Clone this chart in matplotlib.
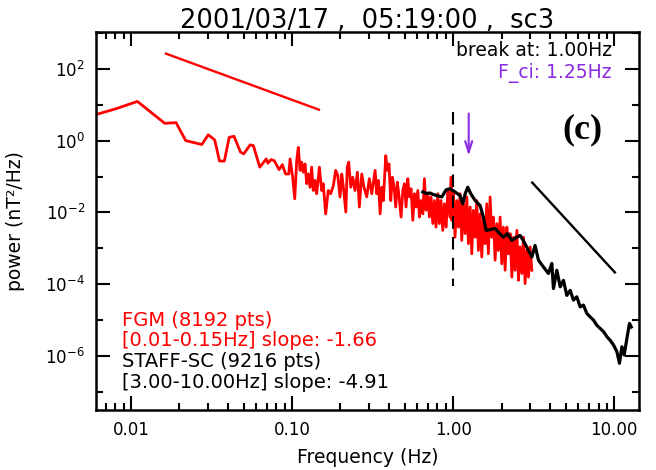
import numpy as np
import matplotlib
matplotlib.use("Agg")
import matplotlib.pyplot as plt
import matplotlib.ticker as ticker

# FGM spectrum (red), values as log10(f), log10(P)
fgm_logf = [-2.22, -2.09, -1.96, -1.79, -1.72, -1.66, -1.56, -1.52, -1.48, -1.45,
            -1.42, -1.39, -1.36, -1.32, -1.30, -1.26, -1.24, -1.20, -1.16, -1.15,
            -1.13, -1.11, -1.08, -1.06, -1.04, -1.02,
            -1.012, -0.996, -0.983, -0.971, -0.961, -0.950, -0.940, -0.930, -0.919, -0.909,
            -0.899, -0.888, -0.878, -0.868, -0.857, -0.847, -0.830, -0.816, -0.806, -0.791,
            -0.775, -0.760, -0.743, -0.729, -0.716, -0.702, -0.691, -0.681, -0.666, -0.657,
            -0.648, -0.635, -0.623, -0.609, -0.594, -0.582, -0.567, -0.553, -0.536, -0.520,
            -0.505,
            -0.484, -0.474, -0.464, -0.453, -0.443, -0.433, -0.418, -0.408, -0.398, -0.387,
            -0.377, -0.366, -0.356, -0.346, -0.335, -0.323, -0.312, -0.302, -0.292, -0.281,
            -0.271, -0.261, -0.250, -0.240, -0.230, -0.219, -0.209, -0.199, -0.188, -0.178,
            -0.168, -0.157, -0.147, -0.137, -0.126, -0.116, -0.106, -0.095, -0.085, -0.075,
            -0.064, -0.054, -0.043, -0.033, -0.020,
            -0.012, -0.008, 0.002, 0.012, 0.023, 0.033, 0.043, 0.054, 0.064, 0.075,
            0.085, 0.095, 0.106, 0.116, 0.126, 0.137, 0.147, 0.157, 0.168, 0.178,
            0.188, 0.199, 0.209, 0.219, 0.230, 0.240, 0.250, 0.261, 0.271, 0.281,
            0.292, 0.302, 0.312, 0.323, 0.334, 0.343, 0.354, 0.365, 0.375, 0.385,
            0.396, 0.406, 0.416, 0.427, 0.437, 0.447, 0.458, 0.468, 0.478, 0.489]
fgm_logp = [0.72, 0.89, 1.09, 0.48, 0.50, 0.00, -0.11, 0.16, 0.02, -0.57,
            -0.57, 0.09, 0.12, -0.32, -0.37, -0.12, -0.14, -0.74, -0.51, -0.63,
            -0.53, -0.56, -0.81, -0.67, -0.93, -0.93,
            -0.51, -1.02, -1.62, -0.56, -0.19, -0.83, -0.60, -0.88, -0.65, -1.20,
            -0.93, -1.30, -0.74, -1.39, -1.11, -1.48, -0.74, -1.39, -1.20, -2.04,
            -1.39, -1.48, -1.25, -0.83, -0.97, -1.57, -0.93, -1.30, -1.99, -0.74,
            -0.60, -1.30, -1.02, -1.39, -0.88, -1.85, -0.93, -1.30, -1.57, -1.06,
            -1.48,
            -0.83, -1.48, -1.11, -2.04, -1.30, -1.67, -0.42, -0.83, -0.65, -1.67,
            -1.02, -1.30, -1.85, -1.16, -1.57, -2.13, -1.39, -1.20, -1.85, -1.06,
            -1.57, -1.34, -2.22, -1.48, -1.85, -1.39, -2.13, -1.67, -2.04, -1.06,
            -1.94, -1.48, -2.13, -1.57, -2.31, -1.67, -2.41, -1.48, -2.31, -1.67,
            -2.50, -1.76, -2.41, -1.39, -2.13,
            -1.02, -2.22, -1.39, -2.69, -1.67, -2.41, -1.48, -2.78, -1.76, -2.59,
            -1.57, -2.87, -1.85, -3.15, -1.94, -2.69, -1.67, -3.06, -2.04, -3.24,
            -2.22, -2.87, -1.76, -3.15, -1.57, -2.69, -2.13, -3.33, -2.31, -3.06,
            -2.13, -3.43, -2.41, -3.61, -2.41, -3.15, -2.59, -3.80, -2.69, -3.61,
            -2.50, -3.89, -2.96, -3.70, -2.69, -3.98, -3.06, -3.80, -2.96, -3.61]

# STAFF-SC spectrum (black)
staff_logf = [-0.188, -0.168, -0.143, -0.124, -0.101, -0.070, -0.043, -0.019, 0.012, 0.043,
              0.060, 0.075, 0.091, 0.110, 0.137, 0.168, 0.188, 0.205, 0.230, 0.261,
              0.281, 0.312, 0.337, 0.365, 0.391, 0.416, 0.441, 0.468, 0.489, 0.509,
              0.530, 0.561, 0.592, 0.613, 0.623, 0.644, 0.665, 0.685, 0.706, 0.727,
              0.747, 0.768, 0.789, 0.809, 0.830, 0.851, 0.872, 0.892, 0.913, 0.934,
              0.955, 0.975, 0.996, 1.017, 1.033, 1.048, 1.062, 1.079, 1.095, 1.106]
staff_logp = [-1.43, -1.47, -1.46, -1.50, -1.53, -1.57, -1.37, -1.34, -1.43, -1.53,
              -1.76, -1.48, -1.30, -1.48, -1.67, -1.81, -2.13, -2.50, -2.48, -2.45,
              -2.55, -2.69, -2.59, -2.78, -2.70, -2.64, -2.82, -3.06, -3.24, -2.92,
              -3.33, -3.52, -3.70, -3.42, -4.12, -3.61, -4.07, -3.89, -4.31, -4.17,
              -4.44, -4.35, -4.63, -4.58, -4.81, -4.91, -5.00, -5.14, -5.23, -5.32,
              -5.46, -5.56, -5.69, -5.88, -6.20, -5.74, -5.97, -5.51, -5.09, -5.19]

# fitted slope segments
fgm_fit_f = [0.0165, 0.147]
fgm_fit_logp = [2.42, 0.86]
staff_fit_f = [3.1, 10.1]
staff_fit_logp = [-1.17, -3.67]

f_break = 1.00
f_ci = 1.25

purple = '#8a2be2'

fig = plt.figure(figsize=(6.56, 4.70), dpi=100)
ax = fig.add_axes([0.1463, 0.1277, 0.828, 0.804])

ax.plot(10 ** np.array(fgm_logf), 10 ** np.array(fgm_logp), color='red', lw=2.0)
ax.plot(10 ** np.array(staff_logf), 10 ** np.array(staff_logp), color='black', lw=2.3)
ax.plot(fgm_fit_f, 10 ** np.array(fgm_fit_logp), color='red', lw=1.7)
ax.plot(staff_fit_f, 10 ** np.array(staff_fit_logp), color='black', lw=1.7)

ax.plot([f_break, f_break], [10 ** 0.8, 10 ** -4.05], color='black', lw=1.5,
        dashes=(6, 4))
ax.annotate('', xy=(f_ci, 10 ** -0.5), xytext=(f_ci, 10 ** 0.83),
            arrowprops=dict(arrowstyle='->,head_length=0.8,head_width=0.25',
                            color=purple, lw=1.5))

ax.set_xscale('log')
ax.set_yscale('log')
ax.set_xlim(10 ** -2.217, 10 ** 1.155)
ax.set_ylim(10 ** -7.5, 10 ** 3.02)

ax.xaxis.set_major_locator(ticker.FixedLocator([0.01, 0.1, 1.0, 10.0]))
ax.xaxis.set_major_formatter(ticker.FixedFormatter(['0.01', '0.10', '1.00', '10.00']))
ax.xaxis.set_minor_locator(ticker.LogLocator(base=10, subs=np.arange(2, 10)))
ax.xaxis.set_minor_formatter(ticker.NullFormatter())
ax.yaxis.set_major_locator(ticker.FixedLocator([1e2, 1e0, 1e-2, 1e-4, 1e-6]))
ax.yaxis.set_major_formatter(ticker.FixedFormatter(
    [r'$10^{2}$', r'$10^{0}$', r'$10^{-2}$', r'$10^{-4}$', r'$10^{-6}$']))
ax.yaxis.set_minor_locator(ticker.FixedLocator([1e3, 1e1, 1e-1, 1e-3, 1e-5, 1e-7]))
ax.yaxis.set_minor_formatter(ticker.NullFormatter())

ax.tick_params(which='both', direction='in', top=True, right=True, width=1.5,
               labelsize=12, pad=8)
ax.tick_params(which='major', length=10)
ax.tick_params(which='minor', length=5)
for s in ax.spines.values():
    s.set_linewidth(1.8)

ax.set_xlabel('Frequency (Hz)', fontsize=13.5)
ax.xaxis.set_label_coords(0.5, -0.10)
ax.set_ylabel('power (nT²/Hz)', fontsize=13.5)
ax.yaxis.set_label_coords(-0.13, 0.5)
fig.text(0.560, 1 - 21 / 470, '2001/03/17 ,  05:19:00 ,  sc3', fontsize=18.5,
         ha='center', va='center')

ax.text(0.950, 0.952, 'break at: 1.00Hz', transform=ax.transAxes, ha='right',
        va='center', fontsize=13.5)
ax.text(0.950, 0.892, 'F_ci: 1.25Hz', transform=ax.transAxes, ha='right',
        va='center', fontsize=13.5, color=purple)
ax.text(0.895, 0.741, '(c)', transform=ax.transAxes, ha='center', va='center',
        fontsize=26, fontweight='bold', family='Liberation Serif')

ax.text(0.048, 0.238, 'FGM (8192 pts)', transform=ax.transAxes, fontsize=14,
        color='red', va='center')
ax.text(0.048, 0.183, '[0.01-0.15Hz] slope: -1.66', transform=ax.transAxes,
        fontsize=14, color='red', va='center')
ax.text(0.048, 0.127, 'STAFF-SC (9216 pts)', transform=ax.transAxes, fontsize=14,
        color='black', va='center')
ax.text(0.048, 0.074, '[3.00-10.00Hz] slope: -4.91', transform=ax.transAxes,
        fontsize=14, color='black', va='center')

fig.savefig('out.png', dpi=100)
